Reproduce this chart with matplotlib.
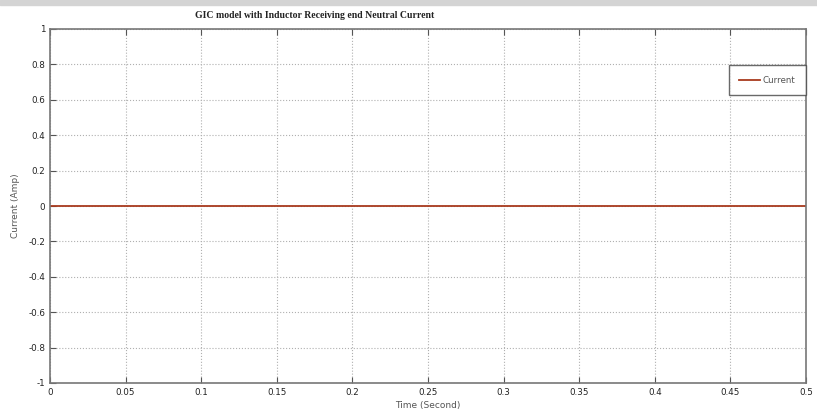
import numpy as np
import matplotlib.pyplot as plt

# simulated neutral current (flat zero over the run)
time_s = [0.0, 0.05, 0.1, 0.15, 0.2, 0.25, 0.3, 0.35, 0.4, 0.45, 0.5]
current_amp = [0, 0, 0, 0, 0, 0, 0, 0, 0, 0, 0]

xticks = [0, 0.05, 0.1, 0.15, 0.2, 0.25, 0.3, 0.35, 0.4, 0.45, 0.5]
xticklabels = ['0', '0.05', '0.1', '0.15', '0.2', '0.25', '0.3', '0.35', '0.4', '0.45', '0.5']
yticks = [-1, -0.8, -0.6, -0.4, -0.2, 0, 0.2, 0.4, 0.6, 0.8, 1]
yticklabels = ['-1', '-0.8', '-0.6', '-0.4', '-0.2', '0', '0.2', '0.4', '0.6', '0.8', '1']

W, H = 817, 415
fig = plt.figure(figsize=(W / 100, H / 100), dpi=100)
fig.patch.set_facecolor('white')

# grey strip at the very top of the scan
fig.patches.append(plt.Rectangle((0, 1 - 5 / H), 1, 5 / H, transform=fig.transFigure,
                                 color='#d4d4d4', zorder=0))

left, right, top, bottom = 50, 806, 29, 383
ax = fig.add_axes([left / W, 1 - bottom / H, (right - left) / W, (bottom - top) / H])

ax.plot(time_s, current_amp, color='#a83a1e', linewidth=1.3, label='Current')

ax.set_xlim(0, 0.5)
ax.set_ylim(-1, 1)
ax.set_xticks(xticks)
ax.set_xticklabels(xticklabels)
ax.set_yticks(yticks)
ax.set_yticklabels(yticklabels)
ax.tick_params(direction='in', length=4, labelsize=6.3, labelcolor='#222222',
               color='#555555', width=0.8)
ax.tick_params(top=True, right=False)
ax.grid(True, linestyle=':', color='#b0b0b0', linewidth=0.8)
for sp in ax.spines.values():
    sp.set_color('#777777')
    sp.set_linewidth(1.2)

ax.set_xlabel('Time (Second)', fontsize=6.5, color='#555555', labelpad=3)
ax.set_ylabel('Current (Amp)', fontsize=6.5, color='#555555', labelpad=6)

fig.text(315 / W, 1 - 15 / H, 'GIC model with Inductor Receiving end Neutral Current',
         ha='center', va='center', fontsize=7, fontweight='bold',
         family='Liberation Serif', color='#222222')

leg = ax.legend(loc='upper right', bbox_to_anchor=(1.0, 0.898), fontsize=6.3,
                frameon=True, fancybox=False, handlelength=2.4, borderpad=1.2,
                handletextpad=0.3, borderaxespad=0.0)
leg.get_frame().set_edgecolor('#444444')
leg.get_frame().set_linewidth(1.0)
for t in leg.get_texts():
    t.set_color('#555555')

fig.savefig('out.png', dpi=100)
